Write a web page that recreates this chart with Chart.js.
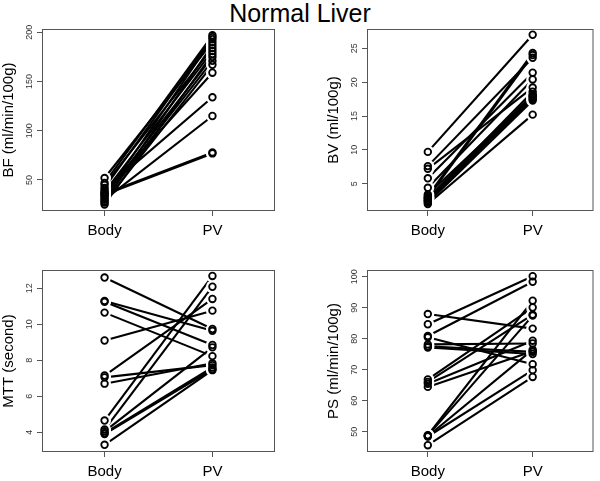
<!DOCTYPE html>
<html><head><meta charset="utf-8">
<script src="https://cdn.jsdelivr.net/npm/chart.js@4.4.0/dist/chart.umd.min.js"></script>
<style>
html,body{margin:0;padding:0;background:#fff;width:600px;height:481px;overflow:hidden;position:relative;}
#title{position:absolute;left:0;top:-1px;width:600px;text-align:center;font:25px "Liberation Sans",Arial,sans-serif;line-height:28px;color:#000;}
canvas{position:absolute;}
</style></head><body>
<div id="title">Normal Liver</div>
<canvas id="c1" width="300" height="230" style="left:0;top:20px"></canvas>
<canvas id="c2" width="275" height="230" style="left:325px;top:20px"></canvas>
<canvas id="c3" width="300" height="230" style="left:0;top:261px"></canvas>
<canvas id="c4" width="275" height="230" style="left:325px;top:261px"></canvas>
<script>
const categories = ['Body', 'PV'];

const bfBody = [52, 47, 45, 42, 40, 38, 36, 35, 34, 33, 31, 30, 28, 27, 25, 37];
const bfPV   = [190, 197, 184, 195, 134, 181, 78, 77, 175, 193, 171, 115, 187, 167, 178, 159];
const bfTicks = [50, 100, 150, 200];

const bvBody = [9.7, 7.6, 7.2, 5.8, 4.4, 3.2, 3.0, 2.8, 2.6, 2.4, 2.2, 2.0, 3.4, 2.9, 2.5];
const bvPV   = [27.0, 23.6, 19.2, 21.4, 20.4, 24.3, 24.0, 18.6, 18.2, 17.7, 17.3, 15.2, 18.0, 17.5, 17.9];
const bvTicks = [5, 10, 15, 20, 25];

const mttBody = [12.6, 11.3, 11.25, 10.65, 9.1, 7.15, 7.05, 6.7, 4.65, 4.15, 4.05, 3.95, 3.9, 3.3];
const mttPV   = [9.74, 9.64, 8.85, 8.23, 10.76, 11.41, 7.73, 7.83, 12.69, 12.09, 8.72, 7.6, 7.5, 7.45];
const mttTicks = [4, 6, 8, 10, 12];

const psBody = [88.0, 84.7, 80.9, 80.5, 78.2, 77.6, 77.2, 66.9, 66.1, 65.5, 64.5, 48.9, 48.8, 48.6, 48.5, 45.7];
const psPV   = [83.3, 100.2, 98.4, 71.8, 78.5, 75.8, 75.1, 90.1, 87.8, 79.4, 76.0, 92.3, 87.5, 76.5, 69.9, 67.7];
const psTicks = [50, 60, 70, 80, 90, 100];

const FONT = '"Liberation Sans", Arial, Helvetica, sans-serif';
const AXIS_COLOR = '#555';

const boxPlugin = {
  id: 'box',
  afterDraw(chart) {
    const a = chart.chartArea, c = chart.ctx;
    c.save();
    c.strokeStyle = AXIS_COLOR;
    c.lineWidth = 1;
    c.strokeRect(a.left + 0.5, a.top + 0.5, a.right - a.left - 1, a.bottom - a.top - 1);
    c.restore();
  }
};

function makePanel(id, body, pv, ticks, yTitle, yMin, yMax, padRight, tickPad) {
  const datasets = [];
  for (let i = 0; i < body.length; i++) {
    datasets.push({
      type: 'scatter', showLine: true, order: 2,
      data: [{x: 1, y: body[i]}, {x: 2, y: pv[i]}],
      borderColor: '#000', borderWidth: 2.1, pointRadius: 0, fill: false
    });
  }
  const pts = [];
  for (let i = 0; i < body.length; i++) { pts.push({x: 1, y: body[i]}); pts.push({x: 2, y: pv[i]}); }
  datasets.push({
    type: 'scatter', order: 1, data: pts,
    pointRadius: 6.5, pointBackgroundColor: '#fff', pointBorderWidth: 0, pointBorderColor: 'rgba(0,0,0,0)'
  });
  datasets.push({
    type: 'scatter', order: 0, data: pts,
    pointRadius: 3.3, pointBackgroundColor: 'rgba(0,0,0,0)', pointBorderWidth: 1.8, pointBorderColor: '#000'
  });
  new Chart(document.getElementById(id), {
    type: 'scatter',
    data: {datasets},
    plugins: [boxPlugin],
    options: {
      responsive: false, animation: false, events: [],
      layout: {padding: {left: 0, right: padRight, top: 9, bottom: 0}},
      plugins: {legend: {display: false}, tooltip: {enabled: false}},
      scales: {
        x: {
          type: 'linear', min: 0.42, max: 2.58,
          afterBuildTicks(s) { s.ticks = categories.map((_, i) => ({value: i + 1})); },
          afterFit(s) { s.height = 39; },
          ticks: {
            callback: (v) => categories[Math.round(v) - 1] || '',
            font: {family: FONT, size: 15}, color: '#000', padding: 6,
            maxRotation: 0, minRotation: 0, autoSkip: false
          },
          grid: {display: true, drawOnChartArea: false, drawTicks: true, tickLength: 5, color: AXIS_COLOR, lineWidth: 1},
          border: {display: false}
        },
        y: {
          type: 'linear', min: yMin, max: yMax,
          afterBuildTicks(s) { s.ticks = ticks.map(v => ({value: v})); },
          afterFit(s) { s.width = 42; },
          ticks: {
            font: {family: FONT, size: 9}, color: '#333', padding: tickPad,
            minRotation: 90, maxRotation: 90, crossAlign: 'center', autoSkip: false
          },
          grid: {display: true, drawOnChartArea: false, drawTicks: true, tickLength: 5, color: AXIS_COLOR, lineWidth: 1},
          border: {display: false},
          title: {display: true, text: yTitle, font: {family: FONT, size: 15}, color: '#000', padding: {top: 0, bottom: 0}}
        }
      }
    }
  });
}

makePanel('c1', bfBody, bfPV, bfTicks, 'BF (ml/min/100g)', 18.5, 203.4, 25, 0);
makePanel('c2', bvBody, bvPV, bvTicks, 'BV (ml/100g)', 0.97, 27.85, 1, 2.5);
makePanel('c3', mttBody, mttPV, mttTicks, 'MTT (second)', 2.9, 13.02, 25, 2.5);
makePanel('c4', psBody, psPV, psTicks, 'PS (ml/min/100g)', 43.5, 102.2, 1, 0);
</script>
</body></html>
